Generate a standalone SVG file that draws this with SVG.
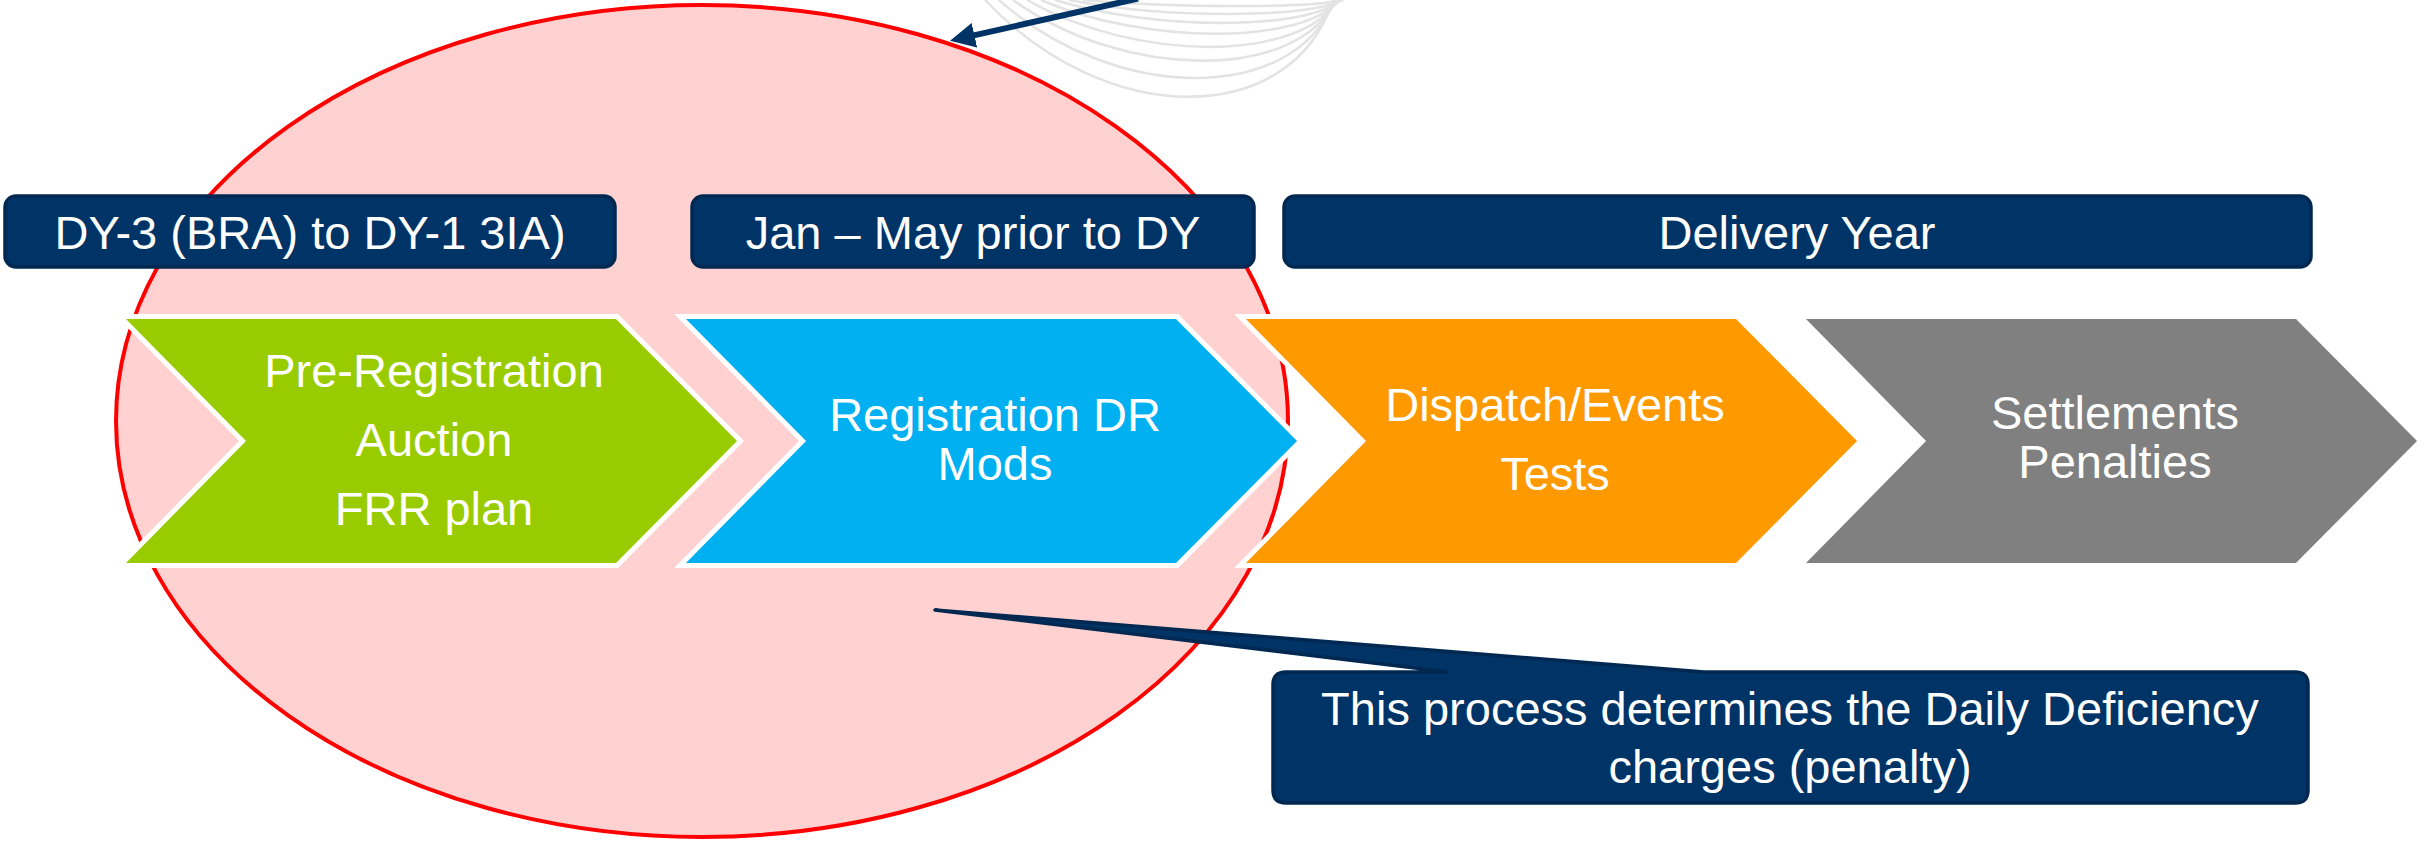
<svg xmlns="http://www.w3.org/2000/svg" width="2432" height="842" viewBox="0 0 2432 842">
<defs>
<style>
.t{font-family:"Liberation Sans",Arial,sans-serif;font-size:47px;fill:#FFFFFF;text-anchor:middle}
.hdr{fill:#003366;stroke:#012850;stroke-width:3.5}
.chev{stroke:#FFFFFF;stroke-width:10;stroke-linejoin:miter;paint-order:stroke}
.arc{fill:none;stroke:#E3E3E3;stroke-width:2.5}
</style>
<marker id="ah" markerUnits="userSpaceOnUse" markerWidth="30" markerHeight="30" viewBox="0 0 30 30" refX="3" refY="12.5" orient="auto">
<path d="M0,0 L25,12.5 L0,25 Z" fill="#003366"/>
</marker>
</defs>
<rect width="2432" height="842" fill="#FFFFFF"/>
<g id="bg-arcs">
<path class="arc" d="M985,0 C1106.8,129 1291.2,129 1333,0"/>
<path class="arc" d="M999,0 C1116.4,104 1294.2,104 1334.5,0"/>
<path class="arc" d="M1013,0 C1126,81 1297.2,81 1336,0"/>
<path class="arc" d="M1027,0 C1135.7,62.5 1300.2,62.5 1337.5,0"/>
<path class="arc" d="M1041,0 C1145.3,45 1303.2,45 1339,0"/>
<path class="arc" d="M1055,0 C1154.9,30.6 1306.2,30.6 1340.5,0"/>
<path class="arc" d="M1069,0 C1164.6,18.6 1309.2,18.6 1342,0"/>
<path class="arc" d="M1083,0 C1174.2,8 1312.2,8 1343.5,0"/>
</g>
<g id="highlight-ellipse">
<ellipse cx="702" cy="421" rx="586" ry="416" fill="#FFD1D1" stroke="#FF0000" stroke-width="4"/>
</g>
<g id="header-1">
<rect class="hdr" x="5" y="196" width="610" height="71" rx="11"/>
<text class="t" x="310" y="249">DY-3 (BRA) to DY-1 3IA)</text>
</g>
<g id="header-2">
<rect class="hdr" x="692" y="196" width="562" height="71" rx="11"/>
<text class="t" x="973" y="249">Jan – May prior to DY</text>
</g>
<g id="header-3">
<rect class="hdr" x="1284" y="196" width="1027" height="71" rx="11"/>
<text class="t" x="1797" y="249">Delivery Year</text>
</g>
<g id="step-preregistration">
<polygon class="chev" fill="#99CC00" points="126,319 616,319 737,441 616,563 126,563 246,441"/>
<text class="t" x="434" y="387">Pre-Registration</text>
<text class="t" x="434" y="456">Auction</text>
<text class="t" x="434" y="525">FRR plan</text>
</g>
<g id="step-registration">
<polygon class="chev" fill="#00B0F0" points="686,319 1176,319 1297,441 1176,563 686,563 806,441"/>
<text class="t" x="995" y="431">Registration DR</text>
<text class="t" x="995" y="480">Mods</text>
</g>
<g id="step-dispatch">
<polygon class="chev" fill="#FF9900" points="1246,319 1736,319 1857,441 1736,563 1246,563 1366,441"/>
<text class="t" x="1555" y="421">Dispatch/Events</text>
<text class="t" x="1555" y="490">Tests</text>
</g>
<g id="step-settlements">
<polygon class="chev" fill="#808080" points="1806,319 2296,319 2417,441 2296,563 1806,563 1926,441"/>
<text class="t" x="2115" y="429">Settlements</text>
<text class="t" x="2115" y="478">Penalties</text>
</g>
<g id="callout">
<path d="M1286,672 L1448,672 L935,610 L1704,672 L2295,672 Q2308,672 2308,685 L2308,790 Q2308,803 2295,803 L1286,803 Q1273,803 1273,790 L1273,685 Q1273,672 1286,672 Z" fill="#003366" stroke="#012850" stroke-width="3.5" stroke-linejoin="round"/>
<text class="t" x="1790" y="725">This process determines the Daily Deficiency</text>
<text class="t" x="1790" y="783">charges (penalty)</text>
</g>
<g id="connectors">
<line x1="1138" y1="-1.5" x2="971.5" y2="35.9" stroke="#003366" stroke-width="6" marker-end="url(#ah)"/>
</g>
</svg>
